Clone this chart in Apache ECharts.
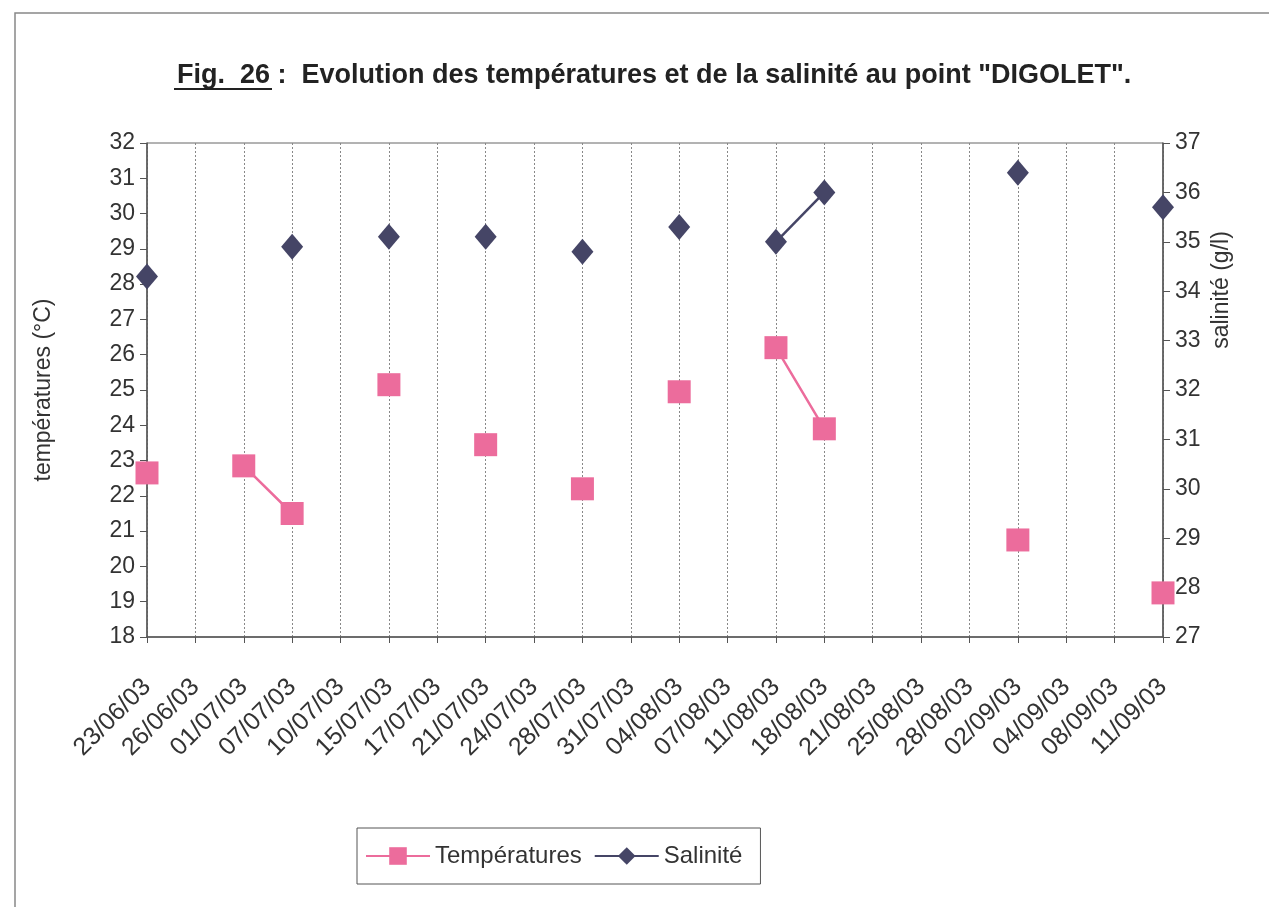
<!DOCTYPE html>
<html>
<head>
<meta charset="utf-8">
<script src="https://cdn.jsdelivr.net/npm/echarts@6/dist/echarts.min.js"></script>
<style>
html, body { margin: 0; padding: 0; background: #fff; }
#main { width: 1269px; height: 907px; }
</style>
</head>
<body>
<div id="main"></div>
<script>
// dates des prélèvements (axe des x)
var dates = ['23/06/03', '26/06/03', '01/07/03', '07/07/03', '10/07/03', '15/07/03', '17/07/03',
    '21/07/03', '24/07/03', '28/07/03', '31/07/03', '04/08/03', '07/08/03', '11/08/03', '18/08/03',
    '21/08/03', '25/08/03', '28/08/03', '02/09/03', '04/09/03', '08/09/03', '11/09/03'];

// températures (°C), null = pas de mesure
var temperatures = [22.65, null, 22.85, 21.5, null, 25.15, null,
    23.45, null, 22.2, null, 24.95, null, 26.2, 23.9,
    null, null, null, 20.75, null, null, 19.25];

// salinité (g/l)
var salinite = [34.3, null, null, 34.9, null, 35.1, null,
    35.1, null, 34.8, null, 35.3, null, 35.0, 36.0,
    null, null, null, 36.4, null, null, 35.7];

var font = 'Liberation Sans, Arial, sans-serif';
var myChart = echarts.init(document.getElementById('main'));

option = {
    backgroundColor: '#fff',
    animation: false,
    textStyle: {fontFamily: font},
    title: {
        text: 'Fig.  26 :  Evolution des températures et de la salinité au point "DIGOLET".',
        left: 172,
        top: 57,
        textStyle: {fontFamily: font, fontSize: 27, fontWeight: 'bold', color: '#222'}
    },
    graphic: [
        // cadre du graphique
        {type: 'rect', shape: {x: 15, y: 13, width: 1300, height: 950},
            style: {fill: null, stroke: '#888', lineWidth: 1.5}, silent: true},
        // soulignement de "Fig. 26"
        {type: 'line', shape: {x1: 174, y1: 89, x2: 272, y2: 89},
            style: {stroke: '#222', lineWidth: 2}, silent: true},
        // titre de l'axe de droite (placé plus haut que le milieu, comme l'original)
        {type: 'text', x: 1222, y: 290, rotation: Math.PI / 2, silent: true,
            style: {text: 'salinité (g/l)', fill: '#333', font: '23px ' + font,
                align: 'center', verticalAlign: 'middle'}}
    ],
    legend: {
        left: 357,
        top: 828,
        padding: [16, 18, 16, 8],
        itemGap: 12,
        itemWidth: 64,
        itemHeight: 22,
        borderColor: '#555',
        borderWidth: 1,
        textStyle: {fontFamily: font, fontSize: 24, color: '#333'},
        data: ['Températures', 'Salinité']
    },
    grid: {
        left: 147,
        right: 106,
        top: 143,
        bottom: 270,
        show: true,
        borderColor: '#666',
        borderWidth: 1
    },
    xAxis: {
        type: 'category',
        data: dates,
        boundaryGap: false,
        axisLine: {lineStyle: {color: '#555', width: 1.5}},
        axisTick: {alignWithLabel: true, length: 6, lineStyle: {color: '#555'}},
        axisLabel: {
            interval: 0,
            rotate: 45,
            margin: 46,
            fontFamily: font,
            fontSize: 25,
            color: '#333'
        },
        splitLine: {show: true, lineStyle: {color: '#888', type: [2, 2], width: 1}}
    },
    yAxis: [
        {
            type: 'value',
            name: 'températures (°C)',
            nameLocation: 'middle',
            nameGap: 92,
            nameTextStyle: {fontFamily: font, fontSize: 23, color: '#333'},
            min: 18,
            max: 32,
            interval: 1,
            axisLine: {show: true, lineStyle: {color: '#555', width: 1.5}},
            axisTick: {show: true, length: 7, lineStyle: {color: '#555'}},
            axisLabel: {fontFamily: font, fontSize: 23, color: '#333', margin: 12},
            splitLine: {show: false}
        },
        {
            type: 'value',
            min: 27,
            max: 37,
            interval: 1,
            axisLine: {show: true, lineStyle: {color: '#555', width: 1.5}},
            axisTick: {show: true, length: 7, lineStyle: {color: '#555'}},
            axisLabel: {fontFamily: font, fontSize: 23, color: '#333', margin: 12},
            splitLine: {show: false}
        }
    ],
    series: [
        {
            name: 'Températures',
            type: 'line',
            yAxisIndex: 0,
            data: temperatures,
            connectNulls: false,
            symbol: 'rect',
            symbolSize: 23,
            itemStyle: {color: '#ec6c9c'},
            lineStyle: {color: '#ec6c9c', width: 2.5},
            z: 3
        },
        {
            name: 'Salinité',
            type: 'line',
            yAxisIndex: 1,
            data: salinite,
            connectNulls: false,
            symbol: 'diamond',
            symbolSize: [22, 26],
            itemStyle: {color: '#454566'},
            lineStyle: {color: '#454566', width: 2.5},
            z: 4
        }
    ]
};

myChart.setOption(option);
</script>
</body>
</html>
